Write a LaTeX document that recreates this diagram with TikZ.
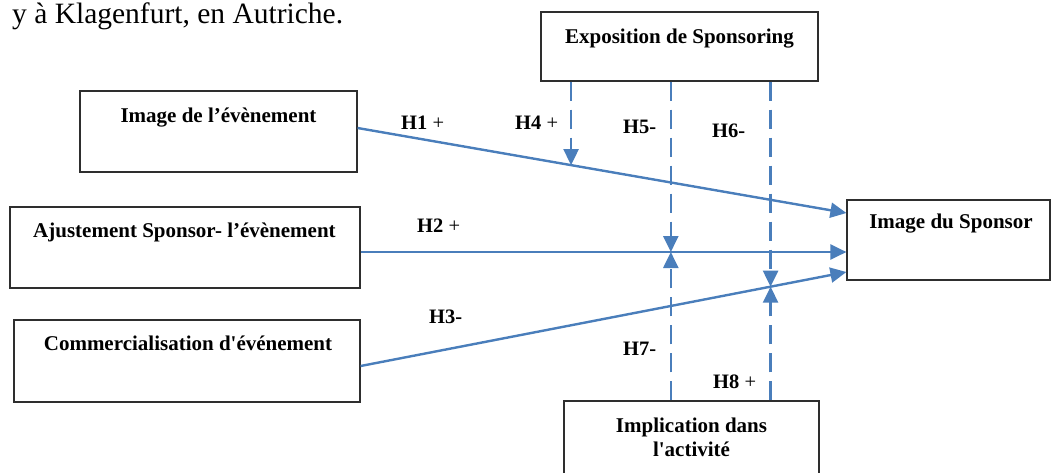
\documentclass[tikz,border=0pt]{standalone}
\usepackage{fontspec}
\setmainfont{Liberation Serif}[Ligatures=TeXOff]
\usetikzlibrary{arrows.meta,calc}
\definecolor{linkblue}{HTML}{4A7EBB}
\definecolor{boxline}{HTML}{2E2E2E}
\begin{document}
\begin{tikzpicture}[x=1pt,y=-1pt,
  box/.style={draw=boxline,line width=1.2pt,inner sep=0pt,fill=white},
  boxtext/.style={anchor=base,inner sep=0pt,font=\fontsize{21}{24}\selectfont\bfseries,align=center},
  hyp/.style={anchor=base west,inner sep=0pt,font=\fontsize{20.5}{24}\selectfont},
  link/.style={draw=linkblue,line width=2.4pt,-{Triangle[length=16pt,width=15pt]}},
  dlink/.style={link,dash pattern=on 19pt off 9pt}]
\useasboundingbox (0,0) rectangle (1051,472);

% running text above the model
\node[anchor=base west,inner sep=0pt,font=\fontsize{29.5}{34}\selectfont] (place) at (12,23) {y à Klagenfurt, en Autriche.};

% construct boxes
\node[box,minimum width=277pt,minimum height=69pt] (expo) at (679.5,46.5) {};
\node[box,minimum width=277pt,minimum height=81pt] (img) at (218.5,131.5) {};
\node[box,minimum width=350pt,minimum height=81pt] (ajust) at (185,247.5) {};
\node[box,minimum width=346pt,minimum height=82pt] (commer) at (187,361) {};
\node[box,minimum width=203pt,minimum height=80pt] (spons) at (948.5,240) {};
\node[box,minimum width=255pt,minimum height=89pt] (impl) at (691.5,445.5) {};

% box captions
\node[boxtext] (expoT) at (679.5,43) {Exposition de Sponsoring};
\node[boxtext] (imgT) at (218.5,122) {Image de l’évènement};
\node[boxtext] (ajustT) at (184.5,237) {Ajustement Sponsor- l’évènement};
\node[boxtext] (commerT) at (188,350) {Commercialisation d'événement};
\node[boxtext] (sponsT) at (951,228) {Image du Sponsor};
\node[boxtext] (implT) at (691.5,456) {Implication dans\\[0pt]l'activité};

% direct effects
\draw[link] ($(img.east)+(0,-3.5)$) coordinate (s1) -- ($(spons.west)+(0,-27)$) coordinate (e1);
\draw[link] ($(ajust.east)+(0,4.5)$) coordinate (s2) -- ($(spons.west)+(0,12)$) coordinate (e2);
\draw[link] ($(commer.east)+(0,5)$) coordinate (s3) -- ($(spons.west)+(0,32)$) coordinate (e3);

% points where the moderators meet the paths
\coordinate (m4) at ($(s1)!0.4367!(e1)$);
\coordinate (m5) at ($(s2)!0.6386!(e2)$);
\coordinate (m6) at ($(s3)!0.8439!(e3)$);

% moderating effects
\draw[dlink] (m4 |- expo.south) -- (m4);
\draw[dlink] (m5 |- expo.south) -- (m5);
\draw[dlink] (m6 |- expo.south) -- (m6);
\draw[dlink] (m5 |- impl.north) -- (m5);
\draw[dlink] (m6 |- impl.north) -- (m6);

% hypothesis labels
\node[hyp] (h1) at (401,129) {\textbf{H1} +};
\node[hyp] (h4) at (515,129) {\textbf{H4} +};
\node[hyp] (h5) at (623,133) {\textbf{H5-}};
\node[hyp] (h6) at (712,137) {\textbf{H6-}};
\node[hyp] (h2) at (417,232) {\textbf{H2} +};
\node[hyp] (h3) at (429,323) {\textbf{H3-}};
\node[hyp] (h7) at (623,355) {\textbf{H7-}};
\node[hyp] (h8) at (713,388) {\textbf{H8} +};
\end{tikzpicture}
\end{document}
